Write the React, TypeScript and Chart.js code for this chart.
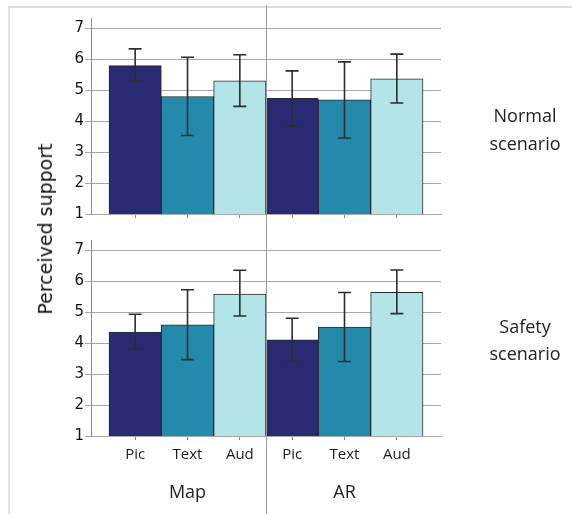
import React, { useEffect, useRef } from "react";
import { Chart, registerables } from "chart.js";

Chart.register(...registerables);

const categories = ["Pic", "Text", "Aud", "Pic", "Text", "Aud"];
const groups = ["Map", "AR"];
const groupCenters = [1, 4];
const yTicks = [1, 2, 3, 4, 5, 6, 7];

const normalMeans = [5.8, 4.8, 5.31, 4.74, 4.69, 5.37];
const normalLow = [5.31, 3.54, 4.48, 3.85, 3.46, 4.59];
const normalHigh = [6.34, 6.07, 6.15, 5.63, 5.92, 6.17];

const safetyMeans = [4.36, 4.6, 5.59, 4.11, 4.52, 5.65];
const safetyLow = [3.81, 3.47, 4.88, 3.41, 3.41, 4.96];
const safetyHigh = [4.94, 5.73, 6.36, 4.81, 5.64, 6.37];

const barColors = ["#2a2a73", "#238aab", "#b3e5e8", "#2a2a73", "#238aab", "#b3e5e8"];

const W = 572;
const TOP_H = 230;
const BOT_H = 284;

function makeConfig(
  means: number[],
  low: number[],
  high: number[],
  isBottom: boolean
): any {
  const errorBars = {
    id: "errorBars",
    afterDatasetsDraw(chart: any) {
      const meta = chart.getDatasetMeta(0);
      const ys = chart.scales.y;
      const ctx = chart.ctx;
      ctx.save();
      ctx.strokeStyle = "#2e2e2e";
      ctx.lineWidth = 1.6;
      meta.data.forEach((bar: any, i: number) => {
        const x = bar.x;
        const yl = ys.getPixelForValue(low[i]);
        const yh = ys.getPixelForValue(high[i]);
        const cap = 6.5;
        ctx.beginPath();
        ctx.moveTo(x, yl);
        ctx.lineTo(x, yh);
        ctx.moveTo(x - cap, yh);
        ctx.lineTo(x + cap, yh);
        ctx.moveTo(x - cap, yl);
        ctx.lineTo(x + cap, yl);
        ctx.stroke();
      });
      ctx.restore();
    },
  };

  const divider = {
    id: "divider",
    afterDraw(chart: any) {
      const xs = chart.scales.x;
      const ctx = chart.ctx;
      const x = Math.round(xs.getPixelForValue(2.5)) + 0.5;
      ctx.save();
      ctx.strokeStyle = "#9a9a9a";
      ctx.lineWidth = 1;
      ctx.beginPath();
      ctx.moveTo(x, isBottom ? 0 : 5);
      ctx.lineTo(x, chart.height);
      ctx.stroke();
      if (isBottom) {
        ctx.fillStyle = "#1e1e1e";
        ctx.font = "18px 'Open Sans', sans-serif";
        ctx.textAlign = "center";
        ctx.textBaseline = "middle";
        groups.forEach((g, i) => {
          ctx.fillText(g, xs.getPixelForValue(groupCenters[i]), 263);
        });
      }
      ctx.restore();
    },
  };

  return {
    type: "bar",
    data: {
      datasets: [
        {
          data: means.map((v, i) => ({ x: i, y: v })),
          backgroundColor: barColors,
          borderColor: "#2b2b2b",
          borderWidth: 1,
          barPercentage: 1,
          categoryPercentage: 1,
        },
      ],
    },
    options: {
      responsive: false,
      animation: false,
      devicePixelRatio: 1,
      layout: {
        padding: { left: 51, right: 131, top: isBottom ? 10 : 18, bottom: 0 },
      },
      plugins: {
        legend: { display: false },
        tooltip: { enabled: false },
        title: { display: false },
      },
      scales: {
        x: {
          type: "linear",
          offset: false,
          min: -0.844,
          max: 5.844,
          afterBuildTicks(scale: any) {
            scale.ticks = categories.map((_, i) => ({ value: i }));
          },
          afterFit(scale: any) {
            scale.height = isBottom ? 78 : 16;
          },
          ticks: {
            autoSkip: false,
            maxRotation: 0,
            padding: 6,
            color: "#1e1e1e",
            font: { family: "'Open Sans', sans-serif", size: 15 },
            callback: (v: any) => (isBottom ? categories[Math.round(v)] : ""),
          },
          grid: {
            offset: false,
            drawOnChartArea: false,
            drawTicks: true,
            tickLength: 4,
            color: "#888888",
          },
          border: { color: "#a8a8a8", width: 1 },
        },
        y: {
          min: 1,
          max: 7.34,
          afterBuildTicks(scale: any) {
            scale.ticks = yTicks.map((v) => ({ value: v }));
          },
          afterFit(scale: any) {
            scale.width = 40;
          },
          ticks: {
            padding: 1,
            color: "#111111",
            font: { family: "'DejaVu Sans', sans-serif", size: 15 },
          },
          grid: {
            color: "#a6a6a6",
            tickLength: 6,
            lineWidth: 1,
          },
          border: { color: "#8a8a8a", width: 1 },
        },
      },
    },
    plugins: [errorBars, divider],
  };
}

function Panel(props: {
  means: number[];
  low: number[];
  high: number[];
  isBottom: boolean;
  top: number;
  height: number;
}) {
  const ref = useRef<HTMLCanvasElement | null>(null);
  useEffect(() => {
    if (!ref.current) return;
    const chart = new Chart(
      ref.current,
      makeConfig(props.means, props.low, props.high, props.isBottom)
    );
    return () => chart.destroy();
  }, []);
  return (
    <canvas
      ref={ref}
      width={W}
      height={props.height}
      style={{
        position: "absolute",
        left: 0,
        top: props.top,
        width: W,
        height: props.height,
        display: "block",
      }}
    />
  );
}

const sideLabel: React.CSSProperties = {
  position: "absolute",
  width: 120,
  left: 465,
  textAlign: "center",
  fontFamily: "'Open Sans', sans-serif",
  fontSize: 18,
  color: "#222222",
};

export default function App() {
  return (
    <div
      style={{
        position: "absolute",
        left: 0,
        top: 0,
        width: W,
        height: 514,
        background: "#ffffff",
        overflow: "hidden",
      }}
    >
      <div
        style={{
          position: "absolute",
          left: 8,
          top: 6,
          width: W - 8,
          height: 520,
          borderTop: "2px solid #dcdcdc",
          borderLeft: "2px solid #e2e2e2",
        }}
      />
      <Panel means={normalMeans} low={normalLow} high={normalHigh} isBottom={false} top={0} height={TOP_H} />
      <Panel means={safetyMeans} low={safetyLow} high={safetyHigh} isBottom={true} top={TOP_H} height={BOT_H} />
      <div
        style={{
          position: "absolute",
          left: 45,
          top: 229,
          transform: "translate(-50%, -50%) rotate(-90deg)",
          whiteSpace: "nowrap",
          fontFamily: "'DejaVu Sans', sans-serif",
          fontSize: 19,
          color: "#111111",
        }}
      >
        Perceived support
      </div>
      <div style={{ ...sideLabel, top: 101, lineHeight: "28px" }}>
        Normal
        <br />
        scenario
      </div>
      <div style={{ ...sideLabel, top: 313, lineHeight: "27px" }}>
        Safety
        <br />
        scenario
      </div>
    </div>
  );
}
